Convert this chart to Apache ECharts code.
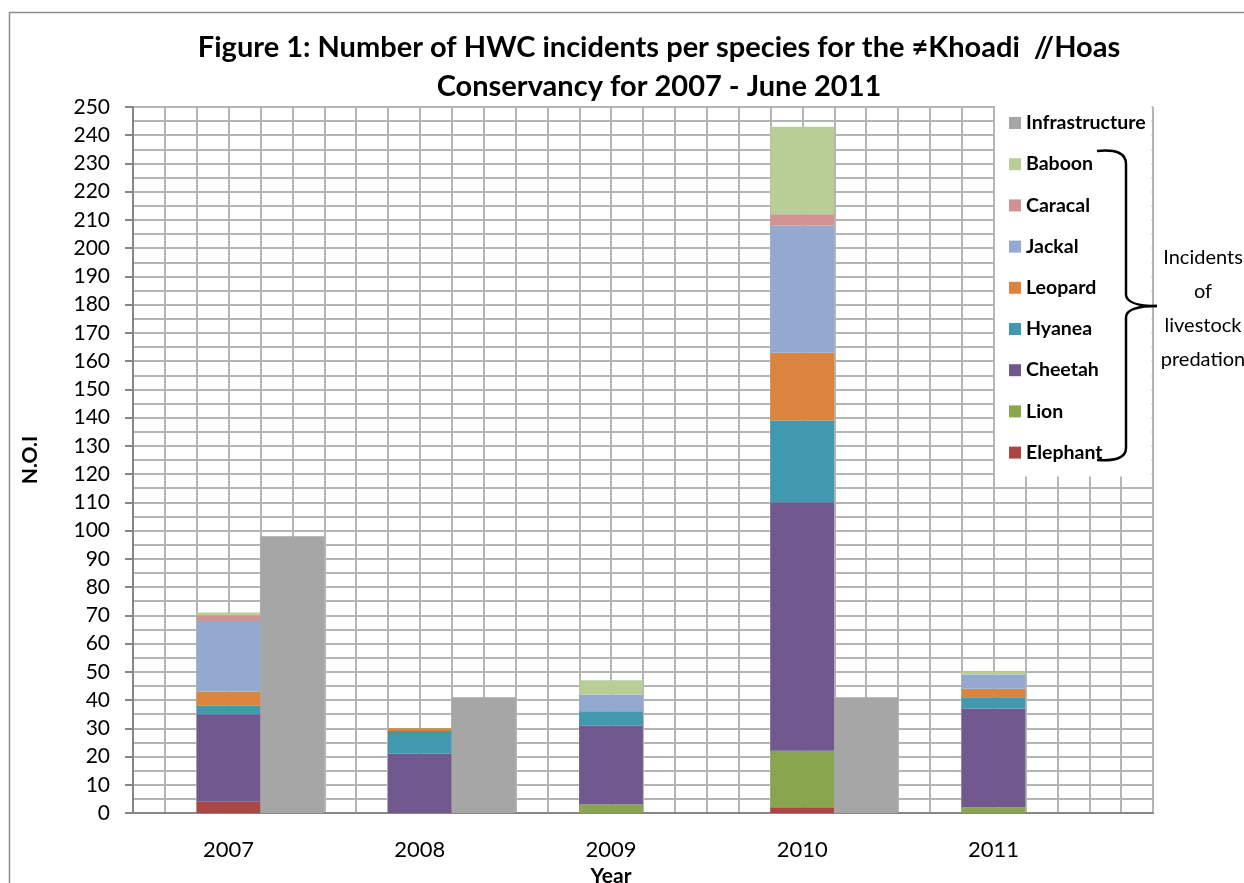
<!DOCTYPE html>
<html>
<head>
<meta charset="utf-8">
<script src="https://cdn.jsdelivr.net/npm/echarts@6/dist/echarts.min.js"></script>
<style>
  html, body { margin: 0; padding: 0; background: #fff; }
  #chart { width: 1244px; height: 883px; }
</style>
</head>
<body>
<div id="chart"></div>
<script>
// values
const years = ['2007', '2008', '2009', '2010', '2011'];
const elephant = [4, 0, 0, 2, 0];
const lion = [0, 0, 3, 20, 2];
const cheetah = [31, 21, 28, 88, 35];
const hyanea = [3, 8, 5, 29, 4];
const leopard = [5, 1, 0, 24, 3];
const jackal = [25, 0, 6, 45, 5];
const caracal = [2, 0, 0, 4, 0];
const baboon = [1, 0, 5, 31, 1];
const infrastructure = [98, 41, null, 41, null];

const species = [
  ['Elephant', elephant, '#aa4643'],
  ['Lion', lion, '#89a54e'],
  ['Cheetah', cheetah, '#71588f'],
  ['Hyanea', hyanea, '#4198af'],
  ['Leopard', leopard, '#db843d'],
  ['Jackal', jackal, '#93a9cf'],
  ['Caracal', caracal, '#d19392'],
  ['Baboon', baboon, '#b9cd96']
];

const font = 'Lato, "Open Sans", sans-serif';
const cellLine = { show: true, lineStyle: { color: '#b5b5b5', width: 2 } };

const series = [
  // empty slot on the left so each species stack sits on its year label
  { type: 'bar', name: 'pad', stack: 'pad', xAxisIndex: 0, yAxisIndex: 0,
    data: years.map(() => null), barGap: 0, barCategoryGap: 0, silent: true }
];
species.forEach(([name, vals, color]) => {
  series.push({ type: 'bar', name, stack: 'species', data: vals,
    xAxisIndex: 0, yAxisIndex: 0, itemStyle: { color }, barGap: 0, barCategoryGap: 0 });
});
series.push({ type: 'bar', name: 'Infrastructure', stack: 'infra', data: infrastructure,
  xAxisIndex: 0, yAxisIndex: 0, itemStyle: { color: '#a6a6a6' }, barGap: 0, barCategoryGap: 0 });

// curly brace next to the legend
const brace = { fill: null, stroke: '#000', lineWidth: 2.5 };
const braceParts = [
  { type: 'bezierCurve', shape: { x1: 1097, y1: 151, cpx1: 1126, cpy1: 148, x2: 1126, y2: 164 } },
  { type: 'line', shape: { x1: 1126, y1: 164, x2: 1126, y2: 295 } },
  { type: 'bezierCurve', shape: { x1: 1126, y1: 295, cpx1: 1127, cpy1: 306, x2: 1157, y2: 306 } },
  { type: 'bezierCurve', shape: { x1: 1157, y1: 306, cpx1: 1127, cpy1: 306, x2: 1126, y2: 317 } },
  { type: 'line', shape: { x1: 1126, y1: 317, x2: 1126, y2: 448 } },
  { type: 'bezierCurve', shape: { x1: 1126, y1: 448, cpx1: 1126, cpy1: 462, x2: 1097, y2: 460 } }
].map(p => Object.assign(p, { style: brace, z: 100, silent: true }));

const chart = echarts.init(document.getElementById('chart'));
chart.setOption({
  backgroundColor: '#fff',
  animation: false,
  grid: [
    { left: 133, top: 107, width: 956, height: 706, outerBoundsMode: 'none', containLabel: false },
    { left: 133, top: 107, width: 1020, height: 706, outerBoundsMode: 'none', containLabel: false }
  ],
  xAxis: [
    { type: 'category', gridIndex: 0, data: years,
      axisLine: { show: false }, axisTick: { show: false },
      axisLabel: { fontFamily: font, fontSize: 22, color: '#000', margin: 26 },
      name: 'Year', nameLocation: 'middle', nameGap: 53,
      nameTextStyle: { fontFamily: font, fontSize: 21, fontWeight: 'bold', color: '#000' } },
    { type: 'value', gridIndex: 1, min: 0, max: 32, interval: 1,
      axisLine: { show: true, lineStyle: { color: '#868686', width: 2 } },
      axisTick: { show: false }, axisLabel: { show: false }, splitLine: cellLine }
  ],
  yAxis: [
    { type: 'value', gridIndex: 0, min: 0, max: 250, interval: 10,
      axisLine: { show: true, lineStyle: { color: '#868686', width: 2 } },
      axisTick: { show: true, length: 8, lineStyle: { color: '#868686', width: 2 } },
      axisLabel: { fontFamily: font, fontSize: 21, color: '#000', margin: 23 },
      splitLine: { show: false },
      name: 'N.O.I', nameLocation: 'middle', nameGap: 92, nameRotate: 90,
      nameTextStyle: { fontFamily: font, fontSize: 21, fontWeight: 'bold', color: '#000' } },
    { type: 'value', gridIndex: 1, min: 0, max: 250, interval: 5,
      axisLine: { show: false }, axisTick: { show: false }, axisLabel: { show: false },
      splitLine: cellLine }
  ],
  legend: {
    data: ['Infrastructure', 'Baboon', 'Caracal', 'Jackal', 'Leopard', 'Hyanea', 'Cheetah', 'Lion', 'Elephant'],
    orient: 'vertical', left: 995, top: 99,
    padding: [14, 6, 14, 14],
    backgroundColor: '#fff',
    icon: 'rect', itemWidth: 12, itemHeight: 12, itemGap: 21.2,
    textStyle: { fontFamily: font, fontSize: 19.5, fontWeight: 'bold', color: '#000', lineHeight: 16 }
  },
  graphic: [
    { type: 'rect', shape: { x: 9.5, y: 12.5, width: 1400, height: 1000 },
      style: { fill: null, stroke: '#8c8c8c', lineWidth: 1.5 }, z: 100, silent: true },
    { type: 'text', x: 659, y: 48, z: 100,
      style: { text: 'Figure 1: Number of HWC incidents per species for the \u2260Khoadi  //Hoas',
        font: 'bold 29px ' + font, fill: '#000', textAlign: 'center', textVerticalAlign: 'middle' } },
    { type: 'text', x: 659, y: 87, z: 100,
      style: { text: 'Conservancy for 2007 - June 2011',
        font: 'bold 29px ' + font, fill: '#000', textAlign: 'center', textVerticalAlign: 'middle' } },
    ...braceParts,
    { type: 'text', x: 1203, y: 309, z: 100,
      style: { text: 'Incidents\nof\nlivestock\npredation', font: '20px ' + font, fill: '#000',
        lineHeight: 34, textAlign: 'center', textVerticalAlign: 'middle' } }
  ],
  series
});
</script>
</body>
</html>
